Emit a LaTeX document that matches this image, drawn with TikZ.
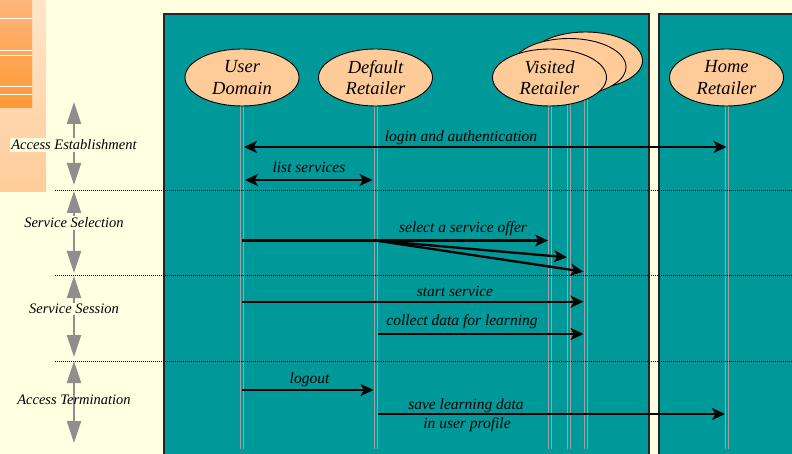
\documentclass[tikz,border=0pt]{standalone}
\usepackage{fontspec}
\setmainfont{Liberation Serif}
\usetikzlibrary{arrows.meta,shapes.geometric,calc}

\definecolor{paper}{HTML}{FFFFE1}
\definecolor{sea}{HTML}{009999}
\definecolor{peach}{HTML}{FFCC99}
\definecolor{lightpeach}{HTML}{FFE6CA}
\definecolor{orangetop}{HTML}{FFB57A}
\definecolor{orangebot}{HTML}{FF9933}
\definecolor{lifegray}{HTML}{A0A0A0}
\definecolor{phasegray}{HTML}{8E8E8E}

\tikzset{
  actor/.style={ellipse, draw=black, line width=0.9pt, fill=peach,
    minimum width=114pt, minimum height=57pt, inner sep=0pt, align=center,
    font=\fontsize{18.5}{21.5}\selectfont\itshape},
  lifeline/.style={draw=lifegray, line width=1pt, double=sea, double distance=2pt},
  msgline/.style={line width=2.3pt, black},
  msg/.style={msgline, -{Stealth[length=13pt,width=12pt,inset=3.5pt]}},
  msgboth/.style={msgline, {Stealth[length=13pt,width=12pt,inset=3.5pt]}-{Stealth[length=13pt,width=12pt,inset=3.5pt]}},
  msglabel/.style={font=\fontsize{15.5}{18}\selectfont\itshape, inner sep=0pt, anchor=base},
  phase/.style={draw=phasegray, line width=2pt,
    {Triangle[length=22pt,width=14pt]}-{Triangle[length=22pt,width=14pt]}},
  phaselabel/.style={font=\fontsize{14.5}{17}\selectfont\itshape, inner sep=1.5pt},
  panel/.style={fill=sea, draw=black!85, line width=1.5pt},
  divider/.style={black, line width=1pt, dash pattern=on 1pt off 1pt}
}

\begin{document}
\begin{tikzpicture}[x=1pt,y=-1pt]
  \useasboundingbox (0,0) rectangle (792,454);
  \clip (0,0) rectangle (792,454);
  \fill[paper] (0,0) rectangle (792,454);

  % decorative corner strip
  \shade[top color=lightpeach, bottom color=peach] (0,0) rectangle (46,192);
  \shade[top color=orangetop, bottom color=orangebot] (0,0) rectangle (32,108);
  \foreach \yy in {18,50,55,86,94}
    \draw[white, line width=0.8pt] (0,\yy) -- (32,\yy);

  % domain panels
  \path[panel] (164,14) rectangle (649,470);
  \path[panel] (659,14) rectangle (800,470);

  % lifelines
  \draw[lifeline] (242,106) -- (242,449);
  \draw[lifeline] (375.5,106) -- (375.5,449);
  \draw[lifeline] (549.5,106) -- (549.5,449);
  \draw[lifeline] (569,96) -- (569,449);
  \draw[lifeline] (585.5,90) -- (585.5,449);
  \draw[lifeline] (726.5,106) -- (726.5,449);

  % actors
  \node[actor] (ud) at (242,77.5) {User\\Domain};
  \node[actor] (dr) at (375.5,77.5) {Default\\Retailer};
  \node[actor] (vr3) at (585.5,60.5) {};
  \node[actor] (vr2) at (569,67) {};
  \node[actor] (vr1) at (549.5,77.5) {Visited\\Retailer};
  \node[actor] (hr) at (726.5,77.5) {Home\\Retailer};

  % phase dividers
  \coordinate (d1) at (55,191);
  \coordinate (d2) at (55,276);
  \coordinate (d3) at (55,361);
  \coordinate (e1) at (792,191);
  \coordinate (e2) at (792,276);
  \coordinate (e3) at (792,361);
  \draw[divider] (d1) -- (e1);
  \draw[divider] (d2) -- (e2);
  \draw[divider] (d3) -- (e3);

  % phase arrows
  \coordinate (p1a) at (74,102);  \coordinate (p1b) at (74,185);
  \coordinate (p2a) at (74,191);  \coordinate (p2b) at (74,273);
  \coordinate (p3a) at (74,276);  \coordinate (p3b) at (74,357);
  \coordinate (p4a) at (74,361);  \coordinate (p4b) at (74,443);
  \draw[phase] (p1a) -- (p1b);
  \draw[phase] (p2a) -- (p2b);
  \draw[phase] (p3a) -- (p3b);
  \draw[phase] (p4a) -- (p4b);
  \node[phaselabel, fill=paper] (ph1) at (74,145) {Access Establishment};
  \node[phaselabel, fill=paper] (ph2) at (74,223) {Service Selection};
  \node[phaselabel, fill=paper] (ph3) at (74,309) {Service Session};
  \node[phaselabel] (ph4) at (74,400) {Access Termination};

  % message levels
  \coordinate (yLogin) at (0,147);
  \coordinate (yList) at (0,180);
  \coordinate (ySel) at (0,240.5);
  \coordinate (ySel2) at (0,257.5);
  \coordinate (ySel3) at (0,272);
  \coordinate (yStart) at (0,301.7);
  \coordinate (yCollect) at (0,334);
  \coordinate (yLogout) at (0,390);
  \coordinate (ySave) at (0,414);

  % messages
  \draw[msgboth, shorten <=2pt] (ud |- yLogin) -- (hr |- yLogin);
  \node[msglabel] (lLogin) at (461,142) {login and authentication};

  \draw[msgboth, shorten <=3pt, shorten >=3pt] (ud |- yList) -- (dr |- yList);
  \node[msglabel] (lList) at (309,173) {list services};

  \draw[msgline] (ud |- ySel) -- (dr |- ySel);
  \draw[msg, shorten >=1.5pt] (dr |- ySel) -- (vr1 |- ySel);
  \draw[msg, shorten >=2pt] (dr |- ySel) -- (vr2 |- ySel2);
  \draw[msg, shorten >=2pt] (dr |- ySel) -- (vr3 |- ySel3);
  \node[msglabel] (lSel) at (463,232.5) {select a service offer};

  \draw[msg, shorten >=2pt] (ud |- yStart) -- (vr3 |- yStart);
  \node[msglabel] (lStart) at (455,296) {start service};

  \draw[msg, shorten <=2pt, shorten >=2pt] (dr |- yCollect) -- (vr3 |- yCollect);
  \node[msglabel] (lCollect) at (462,325.5) {collect data for learning};

  \draw[msg, shorten >=2pt] (ud |- yLogout) -- (dr |- yLogout);
  \node[msglabel] (lLogout) at (309.5,383) {logout};

  \draw[msg, shorten <=2.5pt, shorten >=1.5pt] (dr |- ySave) -- (hr |- ySave);
  \node[msglabel] (lSave1) at (466,409) {save learning data};
  \node[msglabel] (lSave2) at (467,428.5) {in user profile};
\end{tikzpicture}
\end{document}
